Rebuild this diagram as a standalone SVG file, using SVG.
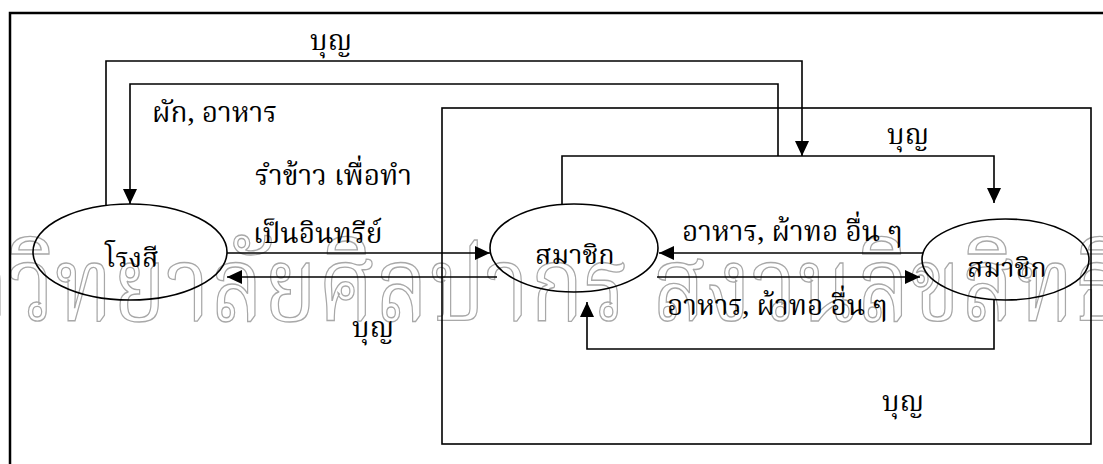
<svg xmlns="http://www.w3.org/2000/svg" width="1103" height="464" viewBox="0 0 1103 464">
<defs>
<style>
.t{font-family:"Angsana New","TH Sarabun New","Noto Serif Thai","Noto Sans Thai",Loma,Garuda,Norasi,"DejaVu Serif",serif;font-size:28px;fill:#000}
.n{font-family:"Angsana New","TH Sarabun New","Noto Serif Thai","Noto Sans Thai",Loma,Garuda,Norasi,"DejaVu Serif",serif;font-size:27px;fill:#000}
.wm{font-family:"Angsana New","TH Sarabun New","Noto Serif Thai","Noto Sans Thai",Loma,Garuda,Norasi,"DejaVu Serif",serif;font-size:104px;fill:none;stroke:#a8a8a8;stroke-width:1.4}
.c{fill:none;stroke:#000;stroke-width:1.6}
.e{fill:none;stroke:#000;stroke-width:1.6}
</style>
<marker id="ah" markerUnits="userSpaceOnUse" markerWidth="16" markerHeight="14" refX="15" refY="7" orient="auto">
<path d="M0,0 L15,7 L0,14 z" fill="#000"/>
</marker>
</defs>
<rect width="1103" height="464" fill="#fff"/>
<g id="watermark">
<text class="wm" x="-150" y="320" textLength="1275" lengthAdjust="spacingAndGlyphs">มหาวิทยาลัยศิลปากร สงวนลิขสิทธิ์</text>
</g>
<g id="frames">
<rect x="10" y="13" width="1110" height="470" fill="none" stroke="#000" stroke-width="2.5"/>
<rect x="442" y="108" width="649" height="336" fill="none" stroke="#000" stroke-width="1.6"/>
</g>
<g id="connectors">
<path class="c" d="M106,206 V61 H802 V156" marker-end="url(#ah)"/>
<path class="c" d="M778,156 V84 H130 V204" marker-end="url(#ah)"/>
<path class="c" d="M562,204 V156 H994 V203" marker-end="url(#ah)"/>
<path class="c" d="M227,253 H490" marker-end="url(#ah)"/>
<path class="c" d="M497,277 H227" marker-end="url(#ah)"/>
<path class="c" d="M923,253 H659" marker-end="url(#ah)"/>
<path class="c" d="M657,277 H920" marker-end="url(#ah)"/>
<path class="c" d="M994,300 V349 H587 V302" marker-end="url(#ah)"/>
</g>
<g id="labels">
<text class="t" x="310" y="50">บุญ</text>
<text class="t" x="152" y="122">ผัก, อาหาร</text>
<text class="t" x="255" y="185">รำข้าว เพื่อทำ</text>
<text class="t" x="253" y="243">เป็นอินทรีย์</text>
<text class="t" x="887" y="144">บุญ</text>
<text class="t" x="682" y="241">อาหาร, ผ้าทอ อื่น ๆ</text>
<text class="t" x="667" y="315">อาหาร, ผ้าทอ อื่น ๆ</text>
<text class="t" x="352" y="337">บุญ</text>
<text class="t" x="882" y="411">บุญ</text>
</g>
<g id="node-rongsi">
<ellipse class="e" cx="130" cy="252" rx="97" ry="48"/>
<text class="n" x="105" y="267">โรงสี</text>
</g>
<g id="node-member-1">
<ellipse class="e" cx="574" cy="248" rx="84" ry="44"/>
<text class="n" x="535" y="264">สมาชิก</text>
</g>
<g id="node-member-2">
<ellipse class="e" cx="1005.5" cy="259.5" rx="83.5" ry="40.5"/>
<text class="n" x="967" y="277">สมาชิก</text>
</g>
</svg>
